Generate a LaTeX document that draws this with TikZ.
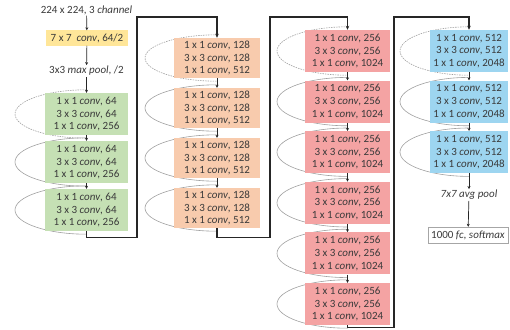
\documentclass[tikz,border=0pt]{standalone}
\usepackage{fontspec}
\setmainfont{Carlito}
\usetikzlibrary{arrows.meta,backgrounds}
\definecolor{txt}{HTML}{3A3A3A}
\definecolor{cyel}{HTML}{FFE699}
\definecolor{cgrn}{HTML}{C5E0B4}
\definecolor{corg}{HTML}{F8CBAD}
\definecolor{cred}{HTML}{F4A3A3}
\definecolor{cblu}{HTML}{9DD5F0}
\definecolor{cloop}{HTML}{A0A0A0}
\newcommand\cv{\textit{conv}}
\newcommand\tri[3]{1 x 1 \cv, #1\\3 x 3 \cv, #2\\1 x 1 \cv, #3}
% loop: node, rx, ry, style
\newcommand\resloop[4]{%
  \draw[loopline,#4] ([yshift=3pt]#1.north) .. controls +({-0.5523*#2},0) and +(0,{0.5523*#3}) ..
    ([xshift=-#2 pt]#1.center) .. controls +(0,{-0.5523*#3}) and +({-0.5523*#2},0) ..
    ([yshift=-3pt]#1.south);}
\begin{document}
\begin{tikzpicture}[x=1pt,y=1pt,
  font=\fontsize{11}{12.7}\selectfont, text=txt,
  blk/.style={align=center, inner sep=0pt, draw=none},
  gblk/.style={blk, fill=cgrn, minimum width=83pt, minimum height=42pt},
  oblk/.style={blk, fill=corg, minimum width=86pt, minimum height=40pt},
  rblk/.style={blk, fill=cred, minimum width=85pt, minimum height=42pt},
  bblk/.style={blk, fill=cblu, minimum width=78pt, minimum height=42pt},
  lbl/.style={align=center, inner sep=1pt},
  conn/.style={draw=black!85, line width=1.2pt, -{Stealth[length=4pt,width=3.5pt]}},
  sarrow/.style={draw=black!85, line width=0.7pt, -{Stealth[length=3pt,width=3pt]}},
  loopline/.style={draw=cloop, line width=0.6pt},
  dashloop/.style={dash pattern=on 1.5pt off 1pt}]
\useasboundingbox (0,0) rectangle (510,-329);

% column 1
\node[lbl] (inp) at (86.5,-10) {224 x 224, 3 \textit{channel}};
\node[blk, fill=cyel, minimum width=82pt, minimum height=15pt] (c7) at (87,-38) {7 x 7\ \ \cv, 64/2};
\node[lbl] (mp) at (86.5,-71) {3x3 \textit{max pool}, /2};
\node[gblk] (c1b1) at (86.5,-114) {\tri{64}{64}{256}};
\node[gblk] (c1b2) at (86.5,-162) {\tri{64}{64}{256}};
\node[gblk] (c1b3) at (86.5,-210) {\tri{64}{64}{256}};

% column 2
\node[oblk] (c2b1) at (217,-58) {\tri{128}{128}{512}};
\node[oblk] (c2b2) at (217,-108) {\tri{128}{128}{512}};
\node[oblk] (c2b3) at (217,-158) {\tri{128}{128}{512}};
\node[oblk] (c2b4) at (217,-208) {\tri{128}{128}{512}};

% column 3
\node[rblk] (c3b1) at (347.5,-51) {\tri{256}{256}{1024}};
\node[rblk] (c3b2) at (347.5,-101.6) {\tri{256}{256}{1024}};
\node[rblk] (c3b3) at (347.5,-152.2) {\tri{256}{256}{1024}};
\node[rblk] (c3b4) at (347.5,-202.8) {\tri{256}{256}{1024}};
\node[rblk] (c3b5) at (347.5,-253.4) {\tri{256}{256}{1024}};
\node[rblk] (c3b6) at (347.5,-304) {\tri{256}{256}{1024}};

% column 4
\node[bblk] (c4b1) at (469,-51) {\tri{512}{512}{2048}};
\node[bblk] (c4b2) at (469,-101.6) {\tri{512}{512}{2048}};
\node[bblk] (c4b3) at (469,-152.2) {\tri{512}{512}{2048}};
\node[lbl] (ap) at (469,-195) {\textit{7x7 avg pool}};
\node[blk, draw=black!35, line width=0.4pt, fill=white, minimum width=80pt, minimum height=16pt] (fc) at (468,-235) {1000 \textit{fc}, \textit{softmax}};

% skip loops behind the blocks
\begin{scope}[on background layer]
\resloop{c1b1}{71.5}{24}{dashloop}
\resloop{c1b2}{71.5}{24}{}
\resloop{c1b3}{71.5}{24}{}
\resloop{c2b1}{72}{23}{dashloop}
\resloop{c2b2}{72}{23}{}
\resloop{c2b3}{72}{23}{}
\resloop{c2b4}{72}{23}{}
\resloop{c3b1}{70.5}{24}{dashloop}
\resloop{c3b2}{70.5}{24}{}
\resloop{c3b3}{70.5}{24}{}
\resloop{c3b4}{70.5}{24}{}
\resloop{c3b5}{70.5}{24}{}
\resloop{c3b6}{70.5}{24}{}
\resloop{c4b1}{69}{24}{dashloop}
\resloop{c4b2}{69}{24}{}
\resloop{c4b3}{69}{24}{}
\end{scope}

% small arrows
\draw[sarrow] (inp) -- (c7);
\draw[sarrow] (c7) -- (mp);
\draw[sarrow] (mp) -- (c1b1);
\foreach \a/\b in {c1b1/c1b2,c1b2/c1b3,c2b1/c2b2,c2b2/c2b3,c2b3/c2b4,
  c3b1/c3b2,c3b2/c3b3,c3b3/c3b4,c3b4/c3b5,c3b5/c3b6,c4b1/c4b2,c4b2/c4b3}
  \draw[sarrow] (\a.south) -- (\b.north);
\draw[sarrow] (c4b3.south) -- (ap);
\draw[sarrow] (ap) -- (fc);

% stage connectors
\coordinate (t1) at (137,-17);
\coordinate (t2) at (270,-17);
\coordinate (t3) at (394,-17);
\draw[conn] (c1b3.south) -- ++(0,-6) -| (t1) -| (c2b1.north);
\draw[conn] (c2b4.south) -- ++(0,-9) -| (t2) -| (c3b1.north);
\draw[conn] (c3b6.south) -- ++(0,-2.5) -| (t3) -| (c4b1.north);
\end{tikzpicture}
\end{document}
